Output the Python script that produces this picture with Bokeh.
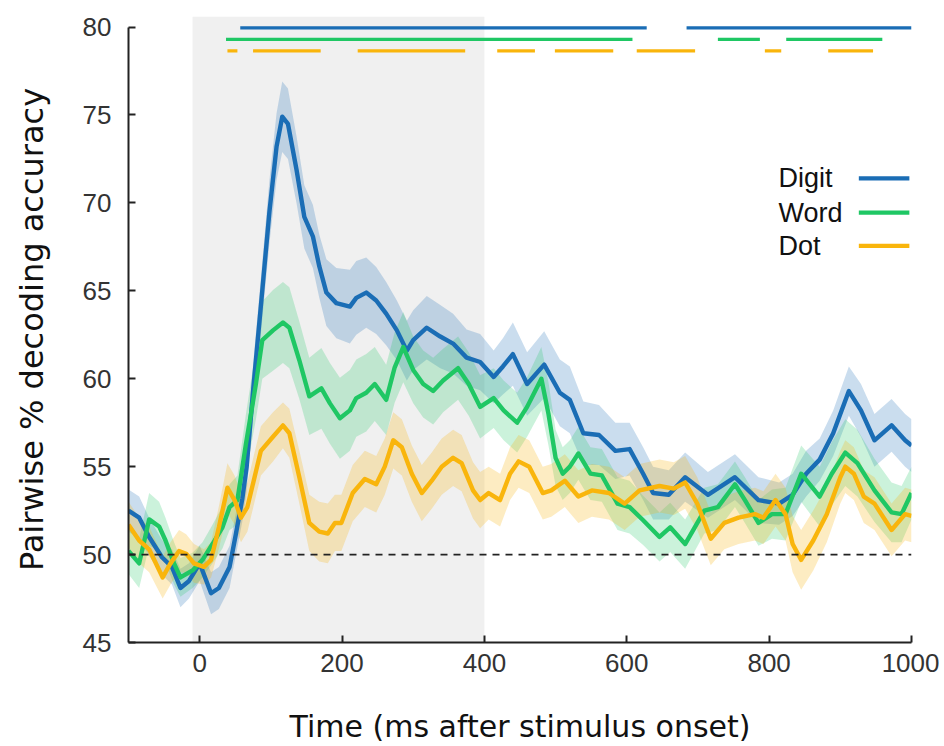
import numpy as np
from bokeh.plotting import figure
from bokeh.models import BoxAnnotation, Span, Range1d, FixedTicker
from bokeh.embed import file_html
from bokeh.resources import INLINE
from bokeh.core.properties import value

# ---------------- data ----------------
digit_t = [-100,-85,-71,-53,-39,-27,-15,0,16,27,42,51,60,66,75,87,98,108,116,124,136,147,159,168,178,192,211,220,234,248,262,277,291,300,319,338,356,375,394,413,426,440,460,484,506,520,539,561,584,604,623,637,659,682,714,752,785,814,833,852,871,890,912,929,948,972,991,1000]
digit_acc = [52.5,52.1,51.0,49.85,49.3,48.1,48.5,49.5,47.8,48.1,49.3,51.2,53.2,55.0,59.3,64.6,69.5,73.2,74.9,74.5,71.9,69.2,68.1,66.4,64.9,64.3,64.1,64.6,64.9,64.45,63.7,62.75,61.6,62.2,62.9,62.4,62.0,61.2,60.95,60.1,60.7,61.4,59.7,60.8,59.2,58.8,56.9,56.8,55.9,56.0,54.6,53.5,53.4,54.4,53.4,54.4,53.1,52.9,53.4,54.6,55.4,56.9,59.3,58.2,56.5,57.35,56.5,56.2]
digit_sem = [1.2,1.2,1.1,1.0,1.0,1.1,1.0,1.0,1.2,1.2,
             1.2,1.2,1.3,1.4,1.5,1.6,1.8,1.9,2.0,2.0,
             1.9,1.8,1.8,1.8,1.9,2.0,2.1,2.1,2.0,1.9,
             1.8,1.7,1.7,1.7,1.8,1.8,1.7,1.6,1.6,1.5,
             1.6,1.8,1.8,1.9,1.9,1.9,1.8,1.7,1.6,1.5,
             1.5,1.5,1.4,1.4,1.3,1.3,1.3,1.2,1.2,1.3,
             1.2,1.3,1.4,1.5,1.5,1.5,1.5,1.5]

word_t = [-100,-85,-71,-57,-48,-36,-27,-10,4,18,32,42,53,65,79,88,103,117,126,140,154,171,183,197,211,220,234,246,262,274,286,300,314,328,342,363,378,394,413,427,446,460,480,490,500,510,520,532,549,565,587,604,623,646,661,682,709,728,752,766,785,804,823,845,871,888,907,924,948,972,986,1000]
word_acc = [50.2,49.5,52.0,51.6,50.8,49.5,48.7,49.1,49.7,50.6,51.55,52.7,53.1,56.3,59.7,62.2,62.75,63.2,62.9,61.05,59.0,59.45,58.6,57.75,58.2,58.9,59.2,59.7,58.8,60.65,61.8,60.5,59.7,59.3,59.9,60.6,59.7,58.4,58.9,58.2,57.5,58.4,60.0,58.0,55.5,54.6,55.0,55.75,54.6,54.5,52.9,52.7,51.95,51.0,51.55,50.6,52.5,52.7,54.0,53.1,51.8,52.3,52.3,54.6,53.3,54.6,55.8,55.2,53.65,52.4,52.3,53.5]
word_sem = [1.3,1.4,1.5,1.4,1.3,1.2,1.1,1.0,1.0,1.1,
            1.2,1.3,1.4,1.7,2.0,2.2,2.3,2.3,2.3,2.2,
            2.2,2.3,2.3,2.3,2.3,2.2,2.2,2.1,2.0,2.0,
            2.0,1.9,1.9,1.9,1.8,1.8,1.8,1.8,1.7,1.7,
            1.7,1.7,1.8,1.8,1.6,1.5,1.5,1.5,1.5,1.5,
            1.5,1.5,1.4,1.4,1.4,1.4,1.3,1.3,1.3,1.3,
            1.3,1.4,1.5,1.6,1.7,1.8,1.9,1.9,1.8,1.7,
            1.6,1.5]

dot_t = [-100,-85,-71,-52,-41,-29,-19,-8,6,16,27,39,49,58,67,86,103,117,126,140,154,168,180,190,199,215,232,248,260,272,284,298,312,326,340,356,368,384,394,406,422,436,448,463,482,494,513,532,551,575,597,618,646,666,682,699,718,737,757,780,792,809,823,833,845,862,881,900,907,919,933,948,972,991,1000]
dot_acc = [51.7,50.8,50.3,48.7,49.5,50.2,50.05,49.5,49.3,49.7,51.55,53.8,53.1,52.1,52.7,55.9,56.7,57.35,56.9,54.4,51.8,51.3,51.2,51.8,51.8,53.5,54.3,54.0,55.0,56.5,56.1,54.6,53.5,54.2,55.0,55.5,55.2,53.65,53.1,53.5,53.1,54.6,55.3,55.0,53.5,53.65,54.2,53.3,53.65,53.5,52.9,53.65,53.9,53.75,54.1,52.9,50.9,51.8,52.1,52.3,52.1,53.1,52.3,50.6,49.7,50.8,52.3,54.4,55.0,54.6,53.3,52.9,51.4,52.3,52.2]
dot_sem = [1.3,1.3,1.3,1.2,1.2,1.2,1.1,1.1,1.0,1.0,
           1.2,1.4,1.4,1.4,1.4,1.4,1.4,1.3,1.4,1.5,
           1.6,1.7,1.7,1.6,1.6,1.6,1.6,1.6,1.6,1.6,
           1.6,1.6,1.6,1.6,1.6,1.6,1.6,1.6,1.6,1.5,
           1.5,1.5,1.5,1.5,1.5,1.5,1.5,1.5,1.5,1.5,
           1.5,1.5,1.5,1.5,1.5,1.5,1.5,1.5,1.5,1.5,
           1.5,1.5,1.5,1.6,1.7,1.7,1.6,1.5,1.5,1.5,
           1.5,1.5,1.5,1.5,1.5]

# significant time windows (start, end) in ms
digit_sig_start = [57, 684]
digit_sig_end = [628, 1000]
word_sig_start = [37, 728, 824]
word_sig_end = [608, 787, 959]
dot_sig_start = [39, 75, 222, 418, 499, 614, 794, 883]
dot_sig_end = [53, 170, 373, 471, 581, 696, 817, 946]

series_names = ["Digit", "Word", "Dot"]
x_ticks = [0, 200, 400, 600, 800, 1000]
y_ticks = [45, 50, 55, 60, 65, 70, 75, 80]
chance = 50
stim_window = (-10, 400)

# ---------------- style ----------------
BLUE = "#1a6db5"
GREEN = "#1fc764"
ORANGE = "#f9b50c"
colors = [BLUE, GREEN, ORANGE]
band_alpha = [0.23, 0.23, 0.25]
sig_levels = [79.95, 79.3, 78.65]
TICK_FONT = "Liberation Sans"
XTICK_FONT = "Liberation Sans Narrow, Liberation Sans"
LABEL_FONT = "DejaVu Sans"

p = figure(frame_width=783, frame_height=626,
           min_border_left=128, min_border_right=28,
           min_border_top=16, min_border_bottom=104,
           x_range=Range1d(-100, 1000), y_range=Range1d(45, 80.6),
           output_backend="svg", toolbar_location=None)
p.outline_line_color = None
p.grid.visible = False
p.background_fill_color = "white"
p.border_fill_color = "white"

p.add_layout(BoxAnnotation(left=stim_window[0], right=stim_window[1],
                           fill_color="#f0f0f0", fill_alpha=1.0,
                           line_color=None, level="underlay"))

p.add_layout(Span(location=chance, dimension="width", line_color="#222222",
                  line_width=1.6, line_dash="7 6"))

data = [(digit_t, digit_acc, digit_sem), (word_t, word_acc, word_sem), (dot_t, dot_acc, dot_sem)]

for (t, a, s), c, al in zip(data, colors, band_alpha):
    a = np.array(a); s = np.array(s)
    p.varea(x=t, y1=a - s, y2=a + s, fill_color=c, fill_alpha=al)

for (t, a, s), c in zip(data, colors):
    p.line(t, a, line_color=c, line_width=4.4, line_join="round")

for st, en, c, lvl in zip([digit_sig_start, word_sig_start, dot_sig_start],
                          [digit_sig_end, word_sig_end, dot_sig_end],
                          colors, sig_levels):
    p.segment(x0=st, x1=en, y0=[lvl] * len(st), y1=[lvl] * len(st),
              line_color=c, line_width=3.2)

# legend (text left, line right)
leg_text_x = 813
leg_line_x0, leg_line_x1 = 926, 997
leg_y = [71.4, 69.45, 67.55]
p.text(x=[leg_text_x] * 3, y=leg_y, text=series_names,
       text_font=value(TICK_FONT), text_font_size="27px",
       text_color="#111111", text_baseline="middle", text_align="left")
p.segment(x0=[leg_line_x0] * 3, x1=[leg_line_x1] * 3, y0=leg_y, y1=leg_y,
          line_color=colors, line_width=4.2)

# axes
for ax in (p.xaxis, p.yaxis):
    ax.axis_line_width = 2
    ax.axis_line_color = "#222222"
    ax.major_tick_line_width = 2
    ax.major_tick_line_color = "#222222"
    ax.major_tick_in = 7
    ax.major_tick_out = 0
    ax.minor_tick_line_color = None
    ax.major_label_text_color = "#333333"
    ax.axis_label_text_font = LABEL_FONT
    ax.axis_label_text_font_style = "normal"
    ax.axis_label_text_color = "#111111"

p.xaxis.major_label_text_font = XTICK_FONT
p.xaxis.major_label_text_font_size = "26px"
p.yaxis.major_label_text_font = TICK_FONT
p.yaxis.major_label_text_font_size = "26px"

p.xaxis.ticker = FixedTicker(ticks=x_ticks)
p.yaxis.ticker = FixedTicker(ticks=y_ticks)
p.yaxis.bounds = (45, 80)
p.xaxis.axis_label = "Time (ms after stimulus onset)"
p.yaxis.axis_label = "Pairwise % decoding accuracy"
p.xaxis.axis_label_text_font_size = "30px"
p.yaxis.axis_label_text_font_size = "32px"
p.xaxis.major_label_standoff = 11
p.yaxis.major_label_standoff = 17
p.xaxis.axis_label_standoff = 34
p.yaxis.axis_label_standoff = 29

open("out.html", "w").write(file_html(p, INLINE))
